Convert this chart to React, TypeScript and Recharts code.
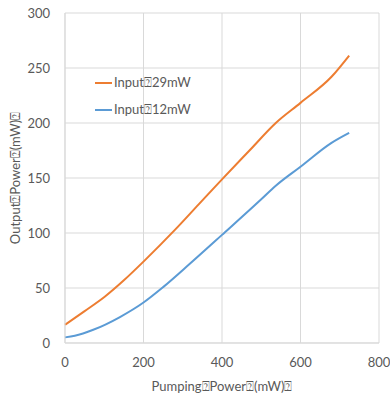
import { LineChart, Line, XAxis, YAxis, CartesianGrid, Legend } from 'recharts'

const Q = '\u2370'

// pumping power (mW) and output power (mW)
const pump29 = [0, 50, 102, 150, 200, 280, 340, 400, 470, 537, 600, 679, 724]
const out29 = [16.6, 29, 42.3, 57, 74, 102.8, 125.8, 148.8, 175, 200, 218.3, 242, 261.3]

const pump12 = [0, 25, 72, 140, 200, 250, 318, 400, 500, 537, 600, 679, 724]
const out12 = [5.1, 6.6, 12, 23.6, 36.8, 50.8, 72, 98.3, 130.7, 143, 160.3, 182, 191.1]

const xTicks = [0, 200, 400, 600, 800]
const yTicks = [0, 50, 100, 150, 200, 250, 300]

const series = [
    { name: `Input${Q}29mW`, color: '#ED7D31', data: pump29.map((x, i) => ({ x, y: out29[i] })) },
    { name: `Input${Q}12mW`, color: '#5B9BD5', data: pump12.map((x, i) => ({ x, y: out12[i] })) },
]

const font = 'Lato, "Open Sans", sans-serif'
const grey = '#595959'

const LegendBox = () => (
    <div style={{ fontFamily: font, fontSize: 13, color: grey }}>
        {series.map((s) => (
            <div key={s.name} style={{ display: 'flex', alignItems: 'center', height: 27 }}>
                <span style={{ display: 'inline-block', width: 17, height: 2, background: s.color, marginRight: 2 }} />
                {s.name}
            </div>
        ))}
    </div>
)

export default function App() {
    return (
        <div style={{ position: 'absolute', left: 0, top: 0, width: 390, height: 394, background: '#fff' }}>
            <LineChart width={390} height={394} margin={{ top: 13, right: 11, left: 0, bottom: 0 }}>
                <CartesianGrid stroke="#d9d9d9" />
                <XAxis
                    type="number"
                    dataKey="x"
                    domain={[0, 800]}
                    ticks={xTicks}
                    height={51}
                    axisLine={{ stroke: '#d9d9d9' }}
                    tickLine={false}
                    tickSize={0}
                    tickMargin={15}
                    tick={{ fill: grey, fontSize: 13, fontFamily: font }}
                    label={{
                        value: `Pumping${Q}Power${Q}(mW)${Q}`,
                        position: 'insideBottom',
                        offset: 3,
                        style: { fill: grey, fontSize: 13, fontFamily: font },
                    }}
                />
                <YAxis
                    type="number"
                    domain={[0, 300]}
                    ticks={yTicks}
                    width={65}
                    axisLine={{ stroke: '#d9d9d9' }}
                    tickLine={false}
                    tickSize={0}
                    tickMargin={15}
                    tick={{ fill: grey, fontSize: 13, fontFamily: font }}
                    label={{
                        value: `Output${Q}Power${Q}(mW)${Q}`,
                        angle: -90,
                        position: 'insideLeft',
                        offset: 15,
                        style: { textAnchor: 'middle', fill: grey, fontSize: 13, fontFamily: font },
                    }}
                />
                <Legend
                    layout="vertical"
                    verticalAlign="middle"
                    align="center"
                    content={<LegendBox />}
                    wrapperStyle={{ left: 95, top: 69, width: 120 }}
                />
                {series.map((s) => (
                    <Line
                        key={s.name}
                        data={s.data}
                        dataKey="y"
                        name={s.name}
                        type="monotone"
                        stroke={s.color}
                        strokeWidth={2}
                        dot={false}
                        isAnimationActive={false}
                    />
                ))}
            </LineChart>
        </div>
    )
}
